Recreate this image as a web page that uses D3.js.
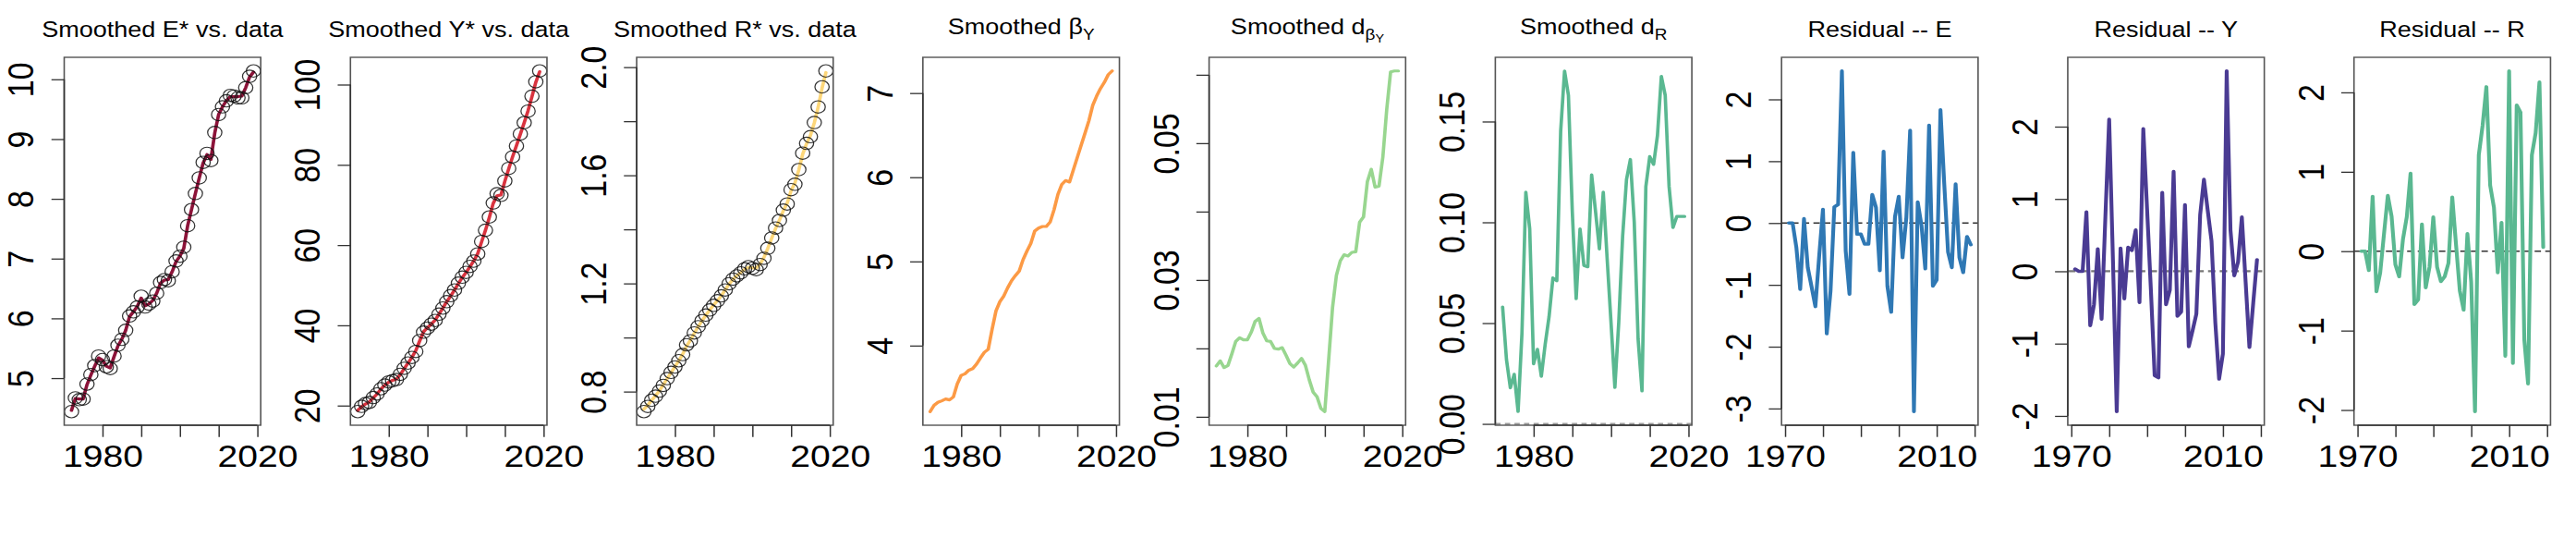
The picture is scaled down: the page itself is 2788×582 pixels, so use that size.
<!DOCTYPE html>
<html><head><meta charset="utf-8">
<script src="https://cdn.jsdelivr.net/npm/d3@7"></script>
<style>
body{margin:0;background:#fff}
svg{display:block}
text{font-family:"Liberation Sans",Arial,Helvetica,sans-serif;fill:#000}
</style>
</head><body>
<svg id="c" width="2788" height="582"></svg>
<script>
// ---------------- data ----------------
const yearsSmooth = [1972,1973,1974,1975,1976,1977,1978,1979,1980,1981,1982,1983,1984,1985,1986,1987,1988,1989,1990,1991,1992,1993,1994,1995,1996,1997,1998,1999,2000,2001,2002,2003,2004,2005,2006,2007,2008,2009,2010,2011,2012,2013,2014,2015,2016,2017,2018,2019];
const yearsResid = [1971,1972,1973,1974,1975,1976,1977,1978,1979,1980,1981,1982,1983,1984,1985,1986,1987,1988,1989,1990,1991,1992,1993,1994,1995,1996,1997,1998,1999,2000,2001,2002,2003,2004,2005,2006,2007,2008,2009,2010,2011,2012,2013,2014,2015,2016,2017,2018,2019];

const eData   = [4.44,4.67,4.64,4.65,4.90,5.06,5.21,5.37,5.31,5.19,5.16,5.37,5.55,5.65,5.80,6.04,6.11,6.19,6.37,6.19,6.24,6.29,6.42,6.60,6.65,6.63,6.78,6.96,7.04,7.19,7.55,7.82,8.09,8.35,8.61,8.76,8.64,9.11,9.41,9.54,9.64,9.73,9.72,9.69,9.69,9.86,10.05,10.14];
const eSmooth = [4.46,4.66,4.65,4.65,4.89,5.05,5.20,5.34,5.30,5.20,5.17,5.36,5.54,5.65,5.80,6.03,6.11,6.20,6.34,6.21,6.24,6.30,6.42,6.59,6.64,6.65,6.78,6.95,7.04,7.17,7.55,7.82,8.09,8.35,8.60,8.74,8.66,9.10,9.41,9.54,9.64,9.71,9.71,9.71,9.72,9.86,10.04,10.12];

const yData   = [18.5,19.8,20.5,20.8,22.0,22.9,24.2,25.1,25.9,26.2,26.5,27.8,29.3,30.6,32.0,33.5,36.2,38.3,39.3,40.3,41.2,42.8,44.3,45.9,47.4,48.8,50.5,52.0,53.2,54.7,56.0,57.8,60.9,63.7,67.0,70.5,72.8,72.4,76.0,79.1,82.0,84.7,87.7,90.5,93.4,97.1,100.7,103.4];
const ySmooth = [18.8,19.7,20.4,20.9,21.9,22.9,24.1,25.1,25.8,26.3,26.6,27.7,29.2,30.6,32.0,33.7,36.1,38.4,39.4,40.3,41.3,42.8,44.3,45.9,47.3,48.8,50.4,51.9,53.2,54.6,56.1,57.9,60.8,63.7,66.9,70.4,72.3,72.5,75.9,79.0,82.0,84.8,87.6,90.5,93.5,97.0,100.6,103.2];

const rData   = [0.726,0.745,0.768,0.783,0.802,0.823,0.848,0.871,0.891,0.914,0.937,0.973,0.988,1.017,1.040,1.062,1.083,1.102,1.119,1.136,1.154,1.176,1.199,1.216,1.228,1.239,1.254,1.262,1.256,1.251,1.270,1.293,1.330,1.368,1.405,1.433,1.471,1.494,1.547,1.567,1.621,1.682,1.718,1.743,1.795,1.853,1.927,1.986];
const rSmooth = [0.735,0.750,0.768,0.785,0.803,0.825,0.848,0.870,0.892,0.914,0.938,0.968,0.990,1.016,1.040,1.062,1.083,1.102,1.120,1.137,1.155,1.176,1.198,1.215,1.229,1.240,1.252,1.260,1.258,1.256,1.272,1.296,1.330,1.367,1.403,1.434,1.469,1.497,1.543,1.572,1.620,1.678,1.717,1.747,1.794,1.852,1.922,1.980];

const betaY   = [3.216,3.290,3.326,3.344,3.366,3.355,3.391,3.544,3.646,3.665,3.708,3.727,3.781,3.854,3.920,3.956,4.193,4.412,4.521,4.587,4.685,4.769,4.831,4.886,5.021,5.123,5.214,5.360,5.396,5.415,5.415,5.469,5.615,5.797,5.914,5.961,5.943,6.089,6.235,6.381,6.524,6.672,6.855,6.964,7.055,7.128,7.219,7.263];

const dBetaY  = [0.01742,0.01818,0.01719,0.01751,0.01921,0.02101,0.02155,0.02124,0.02124,0.02236,0.02393,0.02438,0.02227,0.02110,0.02101,0.01998,0.01989,0.02011,0.01899,0.01778,0.01728,0.01787,0.01854,0.01751,0.01539,0.01360,0.01292,0.01121,0.01076,0.01831,0.02596,0.03067,0.03279,0.03369,0.03351,0.03404,0.03413,0.03845,0.03921,0.04438,0.04618,0.04357,0.04371,0.04798,0.05494,0.06043,0.06056,0.06056];

const dR      = [0.0580,0.0319,0.0179,0.0246,0.0061,0.0450,0.1150,0.0968,0.0298,0.0370,0.0236,0.0395,0.0532,0.0724,0.0710,0.1452,0.1751,0.1630,0.1054,0.0621,0.0967,0.0786,0.0779,0.1236,0.1054,0.0868,0.1150,0.0820,0.0504,0.0181,0.0504,0.0930,0.1212,0.1312,0.1001,0.0420,0.0163,0.1177,0.1326,0.1287,0.1431,0.1724,0.1630,0.1177,0.0974,0.1029,0.1029,0.1029];

const residE  = [0,0,-0.40,-1.07,0.07,-0.72,-1.03,-1.35,-0.54,0.22,-1.79,-1.10,0.26,0.30,2.46,-0.45,-1.15,1.14,-0.18,-0.18,-0.34,-0.34,0.46,0.25,-0.77,1.16,-1.02,-1.44,0.10,0.43,-0.56,0.09,1.50,-3.05,0.34,-0.04,-0.74,1.58,-1.02,-0.92,1.83,0.63,-0.47,-0.72,0.63,-0.56,-0.80,-0.22,-0.35];
const residY  = [0.03,0,0,0.82,-0.75,-0.46,0.31,-0.66,0.75,2.10,0.15,-1.94,0.32,-0.38,0.33,0.29,0.57,-0.43,1.97,0.86,-0.25,-1.44,-1.47,1.09,-0.46,-0.26,1.38,-0.62,-0.56,0.92,-1.04,-0.82,-0.59,0.78,1.27,0.84,0.42,-0.71,-1.49,-1.14,2.77,0.57,-0.06,0.13,0.75,-0.15,-1.05,-0.44,0.16];
const residR  = [0,0,-0.24,0.69,-0.51,-0.27,0.22,0.70,0.44,-0.17,-0.32,0.15,0.43,0.98,-0.67,-0.61,0.34,-0.46,-0.20,0.43,-0.20,-0.38,-0.32,-0.15,0.68,0.08,-0.50,-0.74,0.22,-0.39,-2.02,1.21,1.58,2.07,0.83,0.55,-0.27,0.36,-1.32,2.27,-1.41,1.84,1.75,-1.11,-1.67,1.21,1.49,2.13,0.05];

// ticks and tick labels
const xTicksSmooth  = [1980,1990,2000,2010,2020];
const xLabelsSmooth = [1980,2020];
const xTicksResid   = [1970,1980,1990,2000,2010,2020];
const xLabelsResid  = [1970,2010];

const titles = [
  [["Smoothed E* vs. data"]],
  [["Smoothed Y* vs. data"]],
  [["Smoothed R* vs. data"]],
  [["Smoothed β"],["Y","sub"]],
  [["Smoothed d"],["β","sub"],["Y","subsub"]],
  [["Smoothed d"],["R","sub"]],
  [["Residual -- E"]],
  [["Residual -- Y"]],
  [["Residual -- R"]]
];

const panels = [
  {years: yearsSmooth, line: eSmooth, points: eData, color: "#8c1339",
   yTicks: [5,6,7,8,9,10], yLabels: ["5","6","7","8","9","10"], xTicks: xTicksSmooth, xLabels: xLabelsSmooth},
  {years: yearsSmooth, line: ySmooth, points: yData, color: "#d9333f",
   yTicks: [20,40,60,80,100], yLabels: ["20","40","60","80","100"], xTicks: xTicksSmooth, xLabels: xLabelsSmooth},
  {years: yearsSmooth, line: rSmooth, points: rData, color: "#fdd77a",
   yTicks: [0.8,1.0,1.2,1.4,1.6,1.8,2.0], yLabels: ["0.8","","1.2","","1.6","","2.0"], xTicks: xTicksSmooth, xLabels: xLabelsSmooth},
  {years: yearsSmooth, line: betaY, color: "#fc9a45",
   yTicks: [4,5,6,7], yLabels: ["4","5","6","7"], xTicks: xTicksSmooth, xLabels: xLabelsSmooth},
  {years: yearsSmooth, line: dBetaY, color: "#98d68f",
   yTicks: [0.01,0.02,0.03,0.04,0.05,0.06], yLabels: ["0.01","","0.03","","0.05",""], xTicks: xTicksSmooth, xLabels: xLabelsSmooth},
  {years: yearsSmooth, line: dR, color: "#5ab891", zero: "light",
   yTicks: [0,0.05,0.10,0.15], yLabels: ["0.00","0.05","0.10","0.15"], xTicks: xTicksSmooth, xLabels: xLabelsSmooth},
  {years: yearsResid, line: residE, color: "#2f78b4", zero: "dark", resid: true,
   yTicks: [-3,-2,-1,0,1,2], yLabels: ["-3","-2","-1","0","1","2"], xTicks: xTicksResid, xLabels: xLabelsResid},
  {years: yearsResid, line: residY, color: "#4a3b93", zero: "mid", resid: true,
   yTicks: [-2,-1,0,1,2], yLabels: ["-2","-1","0","1","2"], xTicks: xTicksResid, xLabels: xLabelsResid},
  {years: yearsResid, line: residR, color: "#5ab891", zero: "dark", resid: true,
   yTicks: [-2,-1,0,1,2], yLabels: ["-2","-1","0","1","2"], xTicks: xTicksResid, xLabels: xLabelsResid}
];

// ---------------- layout ----------------
const W = 2788, colW = W / 9, offL = 69.5, boxW = 212.7;
const plotTop = 62, plotBot = 460, sx = 1.15, iw = boxW / sx;
const svg = d3.select("#c");

panels.forEach((p, i) => {
  const g = svg.append("g").attr("transform", `translate(${i * colW + offL},0) scale(${sx},1)`);

  const xe = d3.extent(p.years), xpad = (xe[1] - xe[0]) * 0.04;
  const x = d3.scaleLinear().domain([xe[0] - xpad, xe[1] + xpad]).range([0, iw]);
  const allY = p.line.concat(p.points || []);
  const ye = d3.extent(allY), ypad = (ye[1] - ye[0]) * 0.04;
  const y = d3.scaleLinear().domain([ye[0] - ypad, ye[1] + ypad]).range([plotBot, plotTop]);

  // zero reference line
  if (p.zero) {
    const st = {light: ["#9a9a9a", 2.2, "5,4"], dark: ["#333", 1.4, "6,4"], mid: ["#777", 2.2, "7,4"]}[p.zero];
    g.append("line").attr("x1", 0).attr("x2", iw).attr("y1", y(0)).attr("y2", y(0))
      .attr("stroke", st[0]).attr("stroke-width", st[1]).attr("stroke-dasharray", st[2]);
  }

  // series line
  const lineGen = d3.line().x((d, k) => x(p.years[k])).y(d => y(d));
  g.append("path").datum(p.line).attr("d", lineGen)
    .attr("fill", "none").attr("stroke", p.color).attr("stroke-width", p.resid ? 3.6 : 3.2)
    .attr("stroke-linejoin", "round").attr("stroke-linecap", "round");

  // data circles
  if (p.points) {
    g.selectAll("circle.pt").data(p.points).enter().append("circle").attr("class", "pt")
      .attr("cx", (d, k) => x(p.years[k])).attr("cy", d => y(d)).attr("r", 6.7)
      .attr("fill", "none").attr("stroke", "#111").attr("stroke-width", 1.1).attr("stroke-opacity", 0.85);
  }

  // box
  g.append("rect").attr("x", 0).attr("y", plotTop).attr("width", iw).attr("height", plotBot - plotTop)
    .attr("fill", "none").attr("stroke", "#555").attr("stroke-width", 1.4);

  // x axis
  const xa = g.append("g").attr("transform", `translate(0,${plotBot})`)
    .call(d3.axisBottom(x).tickValues(p.xTicks).tickSize(12.7).tickSizeOuter(0).tickPadding(8.3)
      .tickFormat(d => p.xLabels.includes(d) ? String(d) : ""));
  xa.select(".domain").remove();
  xa.append("line").attr("x1", x(p.xTicks[0])).attr("x2", x(p.xTicks[p.xTicks.length - 1]))
    .attr("y1", 0).attr("y2", 0).attr("stroke", "#333").attr("stroke-width", 1.3);
  xa.selectAll(".tick line").attr("stroke", "#333").attr("stroke-width", 1.3);
  xa.selectAll(".tick text").attr("font-size", 34).attr("fill", "#000")
    .attr("font-family", "'Liberation Sans',Arial,sans-serif");

  // y axis
  const ya = g.append("g")
    .call(d3.axisLeft(y).tickValues(p.yTicks).tickSize(12).tickSizeOuter(0)
      .tickFormat((d, k) => p.yLabels[k]));
  ya.select(".domain").remove();
  ya.append("line").attr("x1", 0).attr("x2", 0)
    .attr("y1", y(p.yTicks[0])).attr("y2", y(p.yTicks[p.yTicks.length - 1]))
    .attr("stroke", "#333").attr("stroke-width", 1.3);
  ya.selectAll(".tick line").attr("stroke", "#333").attr("stroke-width", 1.3);
  ya.selectAll(".tick text").attr("x", 0).attr("y", 0).attr("dy", 0)
    .attr("transform", "translate(-28.7,0) rotate(-90)")
    .attr("text-anchor", "middle").attr("font-size", 34).attr("fill", "#000")
    .attr("font-family", "'Liberation Sans',Arial,sans-serif");

  // title
  const parts = titles[i];
  const t = g.append("text").attr("x", iw / 2).attr("y", parts.length > 1 ? 37 : 40)
    .attr("text-anchor", "middle").attr("font-size", 23.5);
  parts.forEach(pt => {
    const ts = t.append("tspan").text(pt[0]);
    if (pt[1] === "sub") ts.attr("font-size", 16.5).attr("dy", 6);
    if (pt[1] === "subsub") ts.attr("font-size", 12.5).attr("dy", 3);
  });
});
</script>
</body></html>
